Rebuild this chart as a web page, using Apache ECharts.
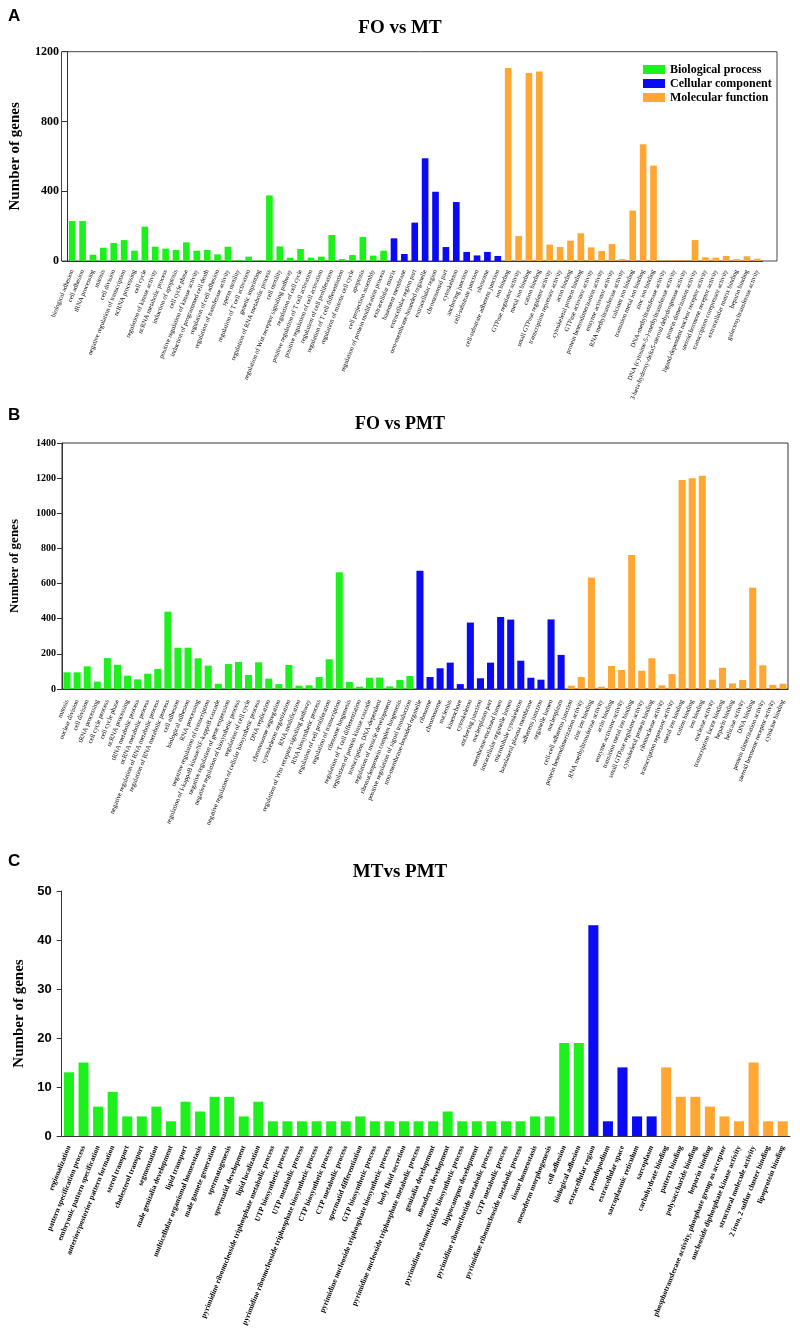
<!DOCTYPE html>
<html><head><meta charset="utf-8">
<script src="https://cdn.jsdelivr.net/npm/echarts@6/dist/echarts.min.js"></script>
<style>html,body{margin:0;padding:0;background:#fff}#c{width:800px;height:1330px}</style>
</head><body><div id="c"></div>
<script>
// ---------- Panel A: FO vs MT ----------
const A_bpLabels = ['biological adhesion','cell adhesion','tRNA processing','mitosis','cell division','negative regulation of transcription','ncRNA processing','cell cycle','regulation of kinase activity','ncRNA metabolic process','induction of apoptosis','cell cycle phase','positive regulation of kinase activity','induction of programmed cell death','regulation of cell adhesion','regulation of transferase activity','sperm motility','regulation of T cell activation','genetic imprinting','regulation of RNA metabolic process','cell motility','regulation of Wnt receptor signaling pathway','regulation of cell cycle','positive regulation of T cell activation','positive regulation of cell activation','regulation of cell proliferation','regulation of T cell differentiation','regulation of mitotic cell cycle','apoptosis','cell projection assembly','regulation of protein modification process'];
const A_bpValues = [229,229,36,76,103,120,59,197,82,71,63,107,59,63,38,82,6,25,4,376,84,19,69,19,25,149,11,34,138,31,59];
const A_ccLabels = ['extracellular matrix','basement membrane','extracellular region part','non-membrane-bounded organelle','extracellular region','chromosomal part','cytoskeleton','anchoring junction','cell-substrate junction','ribosome','cell-substrate adherens junction'];
const A_ccValues = [130,40,220,589,397,80,338,52,32,52,29];
const A_mfLabels = ['ion binding','GTPase regulator activity','metal ion binding','cation binding','small GTPase regulator activity','transcription repressor activity','actin binding','cytoskeletal protein binding','GTPase activator activity','protein heterodimerization activity','enzyme activator activity','RNA methyltransferase activity','calcium ion binding','transition metal ion binding','zinc ion binding','DNA-methyltransferase activity','DNA (cytosine-5-)-methyltransferase activity','3-beta-hydroxy-delta5-steroid dehydrogenase activity','protein dimerization activity','ligand-dependent nuclear receptor activity','steroid hormone receptor activity','transcription corepressor activity','extracellular matrix binding','heparin binding','galactosyltransferase activity'];
const A_mfValues = [1106,143,1078,1087,94,80,117,159,78,57,97,11,289,669,547,4,4,4,120,21,19,29,11,27,13];
const A_yTicks = [0,400,800,1200];

// ---------- Panel B: FO vs PMT ----------
const B_bpLabels = ['mitosis','nuclear division','cell division','tRNA processing','cell cycle process','cell cycle phase','ncRNA processing','tRNA metabolic process','ncRNA metabolic process','negative regulation of RNA metabolic process','regulation of RNA metabolic process','cell adhesion','biological adhesion','RNA processing','negative regulation of transcription','regulation of I-kappaB kinase/NF-kappaB cascade','negative regulation of gene expression','negative regulation of biosynthetic process','regulation of cell cycle','negative regulation of cellular biosynthetic process','DNA replication','chromosome segregation','cytoskeleton organization','RNA modification','regulation of Wnt receptor signaling pathway','RNA biosynthetic process','regulation of cell proliferation','regulation of transcription','ribosome biogenesis','regulation of T cell differentiation','regulation of protein kinase cascade','transcription, DNA-dependent','regulation of muscle development','ribonucleoprotein complex biogenesis','positive regulation of signal transduction'];
const B_bpValues = [95,95,129,42,176,138,76,55,87,114,440,235,235,175,133,30,142,154,80,152,59,28,137,19,21,68,169,664,40,13,64,65,15,51,74];
const B_ccLabels = ['non-membrane-bounded organelle','ribosome','chromosome','nucleolus','kinetochore','cytoskeleton','anchoring junction','nucleoplasm part','membrane-enclosed lumen','intracellular organelle lumen','microtubule cytoskeleton','basolateral plasma membrane','adherens junction','organelle lumen','nucleoplasm'];
const B_ccValues = [673,68,118,150,28,378,61,150,410,395,161,64,53,396,194];
const B_mfLabels = ['cell-cell adherens junction','protein heterodimerization activity','zinc ion binding','RNA methyltransferase activity','actin binding','enzyme activator activity','transition metal ion binding','small GTPase regulator activity','cytoskeletal protein binding','ribonuclease activity','transcription repressor activity','metal ion binding','cation binding','ion binding','nuclease activity','transcription factor binding','heparin binding','helicase activity','DNA binding','protein dimerization activity','steroid hormone receptor activity','cytokine binding'];
const B_mfValues = [19,68,634,13,131,108,763,104,175,21,85,1189,1199,1214,53,121,32,51,577,135,23,30];
const B_yTicks = [0,200,400,600,800,1000,1200,1400];

// ---------- Panel C: MTvs PMT ----------
const C_bpLabels = ['regionalization','pattern specification process','embryonic pattern specification','anterior/posterior pattern formation','sterol transport','cholesterol transport','segmentation','male genitalia development','lipid transport','multicellular organismal homeostasis','male gamete generation','spermatogenesis','spermatid development','lipid localization','pyrimidine ribonucleoside triphosphate metabolic process','UTP biosynthetic process','UTP metabolic process','pyrimidine ribonucleoside triphosphate biosynthetic process','CTP biosynthetic process','CTP metabolic process','spermatid differentiation','GTP biosynthetic process','pyrimidine nucleoside triphosphate biosynthetic process','body fluid secretion','pyrimidine nucleoside triphosphate metabolic process','genitalia development','mesoderm development','pyrimidine ribonucleotide biosynthetic process','hippocampus development','pyrimidine ribonucleotide metabolic process','GTP metabolic process','pyrimidine ribonucleoside metabolic process','tissue homeostasis','mesoderm morphogenesis','cell adhesion','biological adhesion'];
const C_bpValues = [13,15,6,9,4,4,6,3,7,5,8,8,4,7,3,3,3,3,3,3,4,3,3,3,3,3,5,3,3,3,3,3,4,4,19,19];
const C_ccLabels = ['extracellular region','pseudopodium','extracellular space','sarcoplasmic reticulum','sarcoplasm'];
const C_ccValues = [43,3,14,4,4];
const C_mfLabels = ['carbohydrate binding','pattern binding','polysaccharide binding','heparin binding','phosphotransferase activity, phosphate group as acceptor','nucleoside diphosphate kinase activity','structural molecule activity','2 iron, 2 sulfur cluster binding','lipoprotein binding'];
const C_mfValues = [14,8,8,6,4,3,15,3,3];
const C_yTicks = [0,10,20,30,40,50];

const SERIES_NAMES = ['Biological process','Cellular component','Molecular function'];
const COLORS = ['#1EF01E','#0A0AF5','#FFA633'];
const SERIF = '"Liberation Serif","Times New Roman",serif';
const SANS = '"Liberation Sans",Arial,sans-serif';

const chart = echarts.init(document.getElementById('c'), null, {renderer:'canvas'});

function buildPanel(gi, groups, cfg) {
  const cats = [].concat(...groups.map(g => g[0]));
  let off = 0;
  const series = groups.map((g, k) => {
    const data = cats.map(() => '-');
    g[1].forEach((v, i) => { data[off + i] = v; });
    off += g[1].length;
    return {
      name: SERIES_NAMES[k], type: 'bar', stack: 'p' + gi,
      xAxisIndex: gi, yAxisIndex: gi, data: data,
      barCategoryGap: cfg.gap, itemStyle: {color: COLORS[k]},
      emphasis: {disabled: true}
    };
  });
  const ticks = cfg.ticks;
  const xAxis = {
    gridIndex: gi, type: 'category', data: cats,
    axisLine: {lineStyle: {color: '#333', width: 1}},
    axisTick: {alignWithLabel: true, interval: 0, length: cfg.tickLen, lineStyle: {color: '#333'}},
    axisLabel: {interval: 0, rotate: cfg.rot, fontSize: cfg.labelSize, fontFamily: SERIF,
      fontWeight: cfg.labelWeight, color: '#000', margin: cfg.labelMargin}
  };
  const yAxis = {
    gridIndex: gi, type: 'value', min: ticks[0], max: ticks[ticks.length - 1],
    interval: ticks[1] - ticks[0],
    splitLine: {show: false},
    axisLine: {show: true, lineStyle: {color: '#333', width: 1}},
    axisTick: {show: true, length: 5, lineStyle: {color: '#333'}},
    axisLabel: {fontSize: cfg.yLabelSize, fontFamily: cfg.yLabelFont, fontWeight: 'bold', color: '#000',
      margin: cfg.yMargin, formatter: v => String(v)},
    name: 'Number of genes', nameLocation: 'middle', nameGap: cfg.nameGap,
    nameTextStyle: {fontFamily: SERIF, fontWeight: 'bold', fontSize: cfg.nameSize, color: '#000'}
  };
  return {series, xAxis, yAxis};
}

const pA = buildPanel(0, [[A_bpLabels, A_bpValues], [A_ccLabels, A_ccValues], [A_mfLabels, A_mfValues]],
  {gap: '36%', ticks: A_yTicks, rot: 68, labelSize: 6.5, labelWeight: 'normal', labelMargin: 9, tickLen: 5,
   yLabelSize: 12, yLabelFont: SERIF, yMargin: 8, nameGap: 44, nameSize: 15});
const pB = buildPanel(1, [[B_bpLabels, B_bpValues], [B_ccLabels, B_ccValues], [B_mfLabels, B_mfValues]],
  {gap: '30%', ticks: B_yTicks, rot: 68, labelSize: 6.6, labelWeight: 'normal', labelMargin: 11, tickLen: 6,
   yLabelSize: 10, yLabelFont: SERIF, yMargin: 6, nameGap: 41, nameSize: 13});
const pC = buildPanel(2, [[C_bpLabels, C_bpValues], [C_ccLabels, C_ccValues], [C_mfLabels, C_mfValues]],
  {gap: '31%', ticks: C_yTicks, rot: 68, labelSize: 7.5, labelWeight: 'bold', labelMargin: 10, tickLen: 6,
   yLabelSize: 13, yLabelFont: SANS, yMargin: 10, nameGap: 35, nameSize: 15});

const titleStyle = {fontFamily: SERIF, fontWeight: 'bold', color: '#000'};
const letterStyle = {fontFamily: SANS, fontWeight: 'bold', fontSize: 17, color: '#000'};

chart.setOption({
  animation: false,
  backgroundColor: '#fff',
  title: [
    {text: 'FO vs MT', left: 'center', top: 14, textStyle: Object.assign({fontSize: 19}, titleStyle)},
    {text: 'FO vs PMT', left: 'center', top: 410, textStyle: Object.assign({fontSize: 18}, titleStyle)},
    {text: 'MTvs PMT', left: 'center', top: 858, textStyle: Object.assign({fontSize: 19}, titleStyle)},
    {text: 'A', left: 3, top: 3, textStyle: letterStyle},
    {text: 'B', left: 3, top: 402, textStyle: letterStyle},
    {text: 'C', left: 3, top: 848, textStyle: letterStyle}
  ],
  legend: {
    data: SERIES_NAMES, orient: 'vertical', left: 638, top: 58,
    icon: 'rect', itemWidth: 22, itemHeight: 9, itemGap: 1,
    selectedMode: false,
    textStyle: {fontFamily: SERIF, fontWeight: 'bold', fontSize: 12, color: '#000', lineHeight: 13}
  },
  grid: [
    {left: 61.5, top: 51.7, width: 701, height: 209.3},
    {left: 60.6, top: 443, width: 727.4, height: 246, show: true, borderColor: '#333', borderWidth: 1, backgroundColor: 'transparent'},
    {left: 61.7, top: 891, width: 728.3, height: 245}
  ],
  graphic: [
    {type: 'rect', silent: true, z: -1, shape: {x: 61.5, y: 51.7, width: 715.5, height: 209.3},
     style: {fill: 'none', stroke: '#444', lineWidth: 1}}
  ],
  xAxis: [pA.xAxis, pB.xAxis, pC.xAxis],
  yAxis: [pA.yAxis, pB.yAxis, pC.yAxis],
  series: [].concat(pA.series, pB.series, pC.series)
});
</script>
</body></html>
